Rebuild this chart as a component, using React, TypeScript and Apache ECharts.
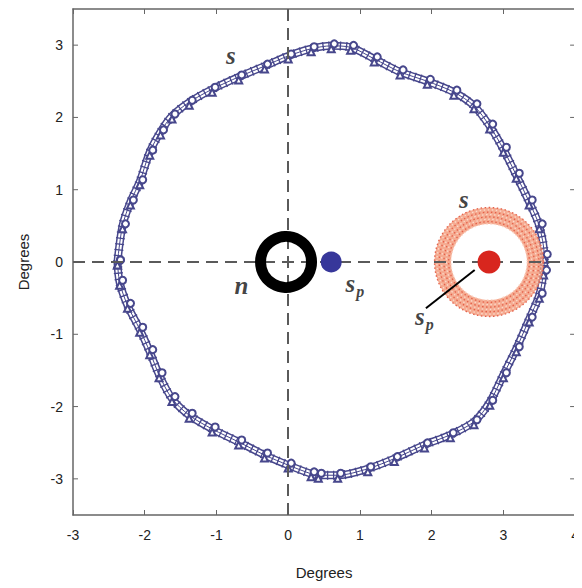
import React, { useEffect, useRef } from "react";
import * as echarts from "echarts";

// Blue loop "s" (degrees): traced points around the closed trajectory
const loopX = [-2.38, -2.31, -2.2, -2.07, -1.93, -1.78, -1.62, -1.38, -1.06, -0.69, -0.33, 0.0, 0.32, 0.6, 0.87, 1.2, 1.56, 1.94, 2.31, 2.59, 2.81, 3.0, 3.18, 3.36, 3.5, 3.57, 3.56, 3.5, 3.36, 3.18, 3.0, 2.81, 2.59, 2.26, 1.9, 1.48, 1.11, 0.69, 0.42, 0.32, 0.0, -0.33, -0.69, -1.06, -1.38, -1.62, -1.8, -1.93, -2.07, -2.24, -2.35, -2.38];
const loopY = [0.0, 0.5, 0.83, 1.11, 1.52, 1.8, 2.02, 2.21, 2.39, 2.56, 2.71, 2.85, 2.95, 2.99, 2.97, 2.81, 2.63, 2.5, 2.35, 2.16, 1.88, 1.56, 1.2, 0.83, 0.5, 0.08, -0.14, -0.46, -0.79, -1.2, -1.56, -1.94, -2.21, -2.39, -2.53, -2.72, -2.86, -2.95, -2.95, -2.93, -2.81, -2.67, -2.49, -2.31, -2.12, -1.89, -1.56, -1.24, -0.93, -0.6, -0.28, 0.0];

// Markers
const nPoint = [-0.03, 0];
const blueSp = [0.6, 0];
const redSp = [2.8, 0];
// red ring: center x, center y, inner radius, outer radius (degrees)
const redRing = [2.8, 0, 0.53, 0.76];
// leader line from label to red s_p
const leaderX = [1.92, 2.6];
const leaderY = [-0.64, -0.11];

// annotation labels
const labelTexts = ["s", "n", "sp", "s", "sp"];
const labelX = [-0.8, -0.65, 0.93, 2.45, 1.9];
const labelY = [2.86, -0.33, -0.3, 0.86, -0.75];

const xTicks = [-3, -2, -1, 0, 1, 2, 3, 4];
const yTicks = [-3, -2, -1, 0, 1, 2, 3];

export default function App() {
  const ref = useRef<HTMLDivElement>(null);
  useEffect(() => {
    if (!ref.current) return;
    const chart = echarts.init(ref.current, undefined, { renderer: "svg" });
    const loop = loopX.map((x, i) => [x, loopY[i]]);
    const axisColor = "#666";
    const blue = "#47478c";
    const labelStyle = { color: "#222", fontSize: 14, fontFamily: "Liberation Sans, Arial, sans-serif" };
    const textFont = "Liberation Serif, DejaVu Serif, serif";
    const rich = {
      s: { fontFamily: textFont, fontStyle: "italic", fontWeight: "bold", fontSize: 25, color: "#111" },
      p: { fontFamily: textFont, fontStyle: "italic", fontWeight: "bold", fontSize: 16, color: "#111", padding: [16, 0, 0, 1] },
    };
    const axisCommon = {
      axisLine: { show: true, onZero: false, lineStyle: { color: axisColor, width: 1.5 } },
      splitLine: { show: false },
    };
    const option: any = {
      animation: false,
      backgroundColor: "#fff",
      grid: { left: 73, right: 3, top: 9, bottom: 73, containLabel: false },
      xAxis: [
        {
          type: "value", min: -3, max: 4, interval: 1, position: "bottom",
          name: "Degrees", nameLocation: "middle", nameGap: 50,
          nameTextStyle: { color: "#222", fontSize: 15, fontFamily: "Liberation Sans, Arial, sans-serif" },
          ...axisCommon,
          axisTick: { show: true, inside: true, length: 5, lineStyle: { color: axisColor } },
          axisLabel: { ...labelStyle, margin: 13, formatter: (v: number) => (xTicks.includes(v) ? String(v) : "") },
        },
        {
          type: "value", min: -3, max: 4, interval: 1, position: "top",
          ...axisCommon,
          axisTick: { show: true, inside: true, length: 5, lineStyle: { color: axisColor } },
          axisLabel: { show: false },
        },
      ],
      yAxis: [
        {
          type: "value", min: -3.5, max: 3.5, interval: 0.5, position: "left",
          name: "Degrees", nameLocation: "middle", nameGap: 42, nameRotate: 90,
          nameTextStyle: { color: "#222", fontSize: 15, fontFamily: "Liberation Sans, Arial, sans-serif" },
          ...axisCommon,
          axisTick: { show: false },
          axisLabel: { ...labelStyle, margin: 10, formatter: (v: number) => (yTicks.includes(v) ? String(v) : "") },
        },
        {
          type: "value", min: -3.5, max: 3.5, interval: 0.5, position: "right",
          ...axisCommon,
          axisTick: { show: false },
          axisLabel: { show: false },
        },
      ],
      series: [
        // dashed crosshair
        {
          type: "line", data: [], xAxisIndex: 0, yAxisIndex: 0, z: 2,
          markLine: {
            silent: true, symbol: "none", label: { show: false },
            lineStyle: { color: "#5a5a5a", width: 2, type: [12, 7] },
            data: [{ xAxis: 0 }, { yAxis: 0 }],
          },
        },
        // y ticks (inside) on left and right
        {
          type: "custom", silent: true, z: 1,
          data: yTicks.map((v) => [v]),
          renderItem: (params: any, api: any) => {
            const y = api.coord([0, api.value(0)])[1];
            const cs = params.coordSys;
            return {
              type: "group",
              children: [
                { type: "line", shape: { x1: cs.x, y1: y, x2: cs.x + 5, y2: y }, style: { stroke: axisColor, lineWidth: 1 } },
                { type: "line", shape: { x1: cs.x + cs.width - 5, y1: y, x2: cs.x + cs.width, y2: y }, style: { stroke: axisColor, lineWidth: 1 } },
              ],
            };
          },
        },
        // blue loop: band of intertwined traces
        {
          type: "line", data: loop, z: 3, showSymbol: false, symbol: "none", smooth: 0.3,
          lineStyle: { color: blue, width: 8 },
        },
        {
          type: "line", data: loop, z: 3, showSymbol: false, symbol: "none", smooth: 0.3,
          lineStyle: { color: "#ffffff", width: 5 },
        },
        {
          type: "line", data: loop, z: 3, showSymbol: false, symbol: "none", smooth: 0.3,
          lineStyle: { color: blue, width: 9, type: [1.3, 4.5] },
        },
        {
          type: "line", data: loop, z: 3, showSymbol: false, symbol: "none", smooth: 0.3,
          lineStyle: { color: blue, width: 1 },
        },
        {
          type: "line", data: loop, z: 3,
          lineStyle: { width: 0 },
          symbol: "emptyTriangle", symbolSize: 7, symbolOffset: [0, 3], showSymbol: true,
          itemStyle: { color: blue, borderWidth: 1 },
        },
        {
          type: "line", data: loop, z: 3,
          lineStyle: { width: 0 },
          symbol: "emptyCircle", symbolSize: 7, symbolOffset: [3, -2], showSymbol: true,
          itemStyle: { color: blue, borderWidth: 1 },
        },
        // red ring
        {
          type: "custom", z: 4, silent: true,
          data: [redRing],
          renderItem: (params: any, api: any) => {
            const c = api.coord([api.value(0), api.value(1)]);
            const r0 = api.size([api.value(2), 0])[0];
            const r1 = api.size([api.value(3), 0])[0];
            const children: any[] = [
              { type: "ring", shape: { cx: c[0], cy: c[1], r0, r: r1 }, style: { fill: "rgba(242,150,118,0.8)" } },
            ];
            const n = 7;
            for (let i = 0; i <= n; i++) {
              const r = r0 + ((r1 - r0) * i) / n;
              children.push({
                type: "circle", shape: { cx: c[0], cy: c[1], r },
                style: { fill: "none", stroke: i % 2 ? "#e4604a" : "#fbd9cc", lineWidth: 1.3, lineDash: [1.5, 2.5] },
              });
            }
            return { type: "group", children };
          },
        },
        // black ring n
        {
          type: "scatter", z: 5, data: [nPoint], symbol: "circle", symbolSize: 51,
          itemStyle: { color: "rgba(0,0,0,0)", borderColor: "#000", borderWidth: 11, opacity: 1 },
        },
        // blue s_p
        {
          type: "scatter", z: 5, data: [blueSp], symbolSize: 21,
          itemStyle: { color: "#37379a", opacity: 1 },
        },
        // red s_p
        {
          type: "scatter", z: 6, data: [redSp], symbolSize: 23,
          itemStyle: { color: "#d8261e", opacity: 1 },
        },
        // leader line
        {
          type: "line", z: 7, data: leaderX.map((x, i) => [x, leaderY[i]]),
          symbol: "none", lineStyle: { color: "#000", width: 2 },
        },
        // labels
        {
          type: "scatter", z: 8, symbolSize: 0,
          data: labelX.map((x, i) => ({ value: [x, labelY[i]], name: labelTexts[i] })),
          label: {
            show: true, position: "inside",
            formatter: (p: any) => (p.name === "sp" ? "{s|s}{p|p}" : "{s|" + p.name + "}"),
            rich,
          },
        },
      ],
    };
    chart.setOption(option);
    return () => chart.dispose();
  }, []);
  return <div ref={ref} style={{ width: 582, height: 588, marginLeft: -8, marginTop: -8 }} />;
}
